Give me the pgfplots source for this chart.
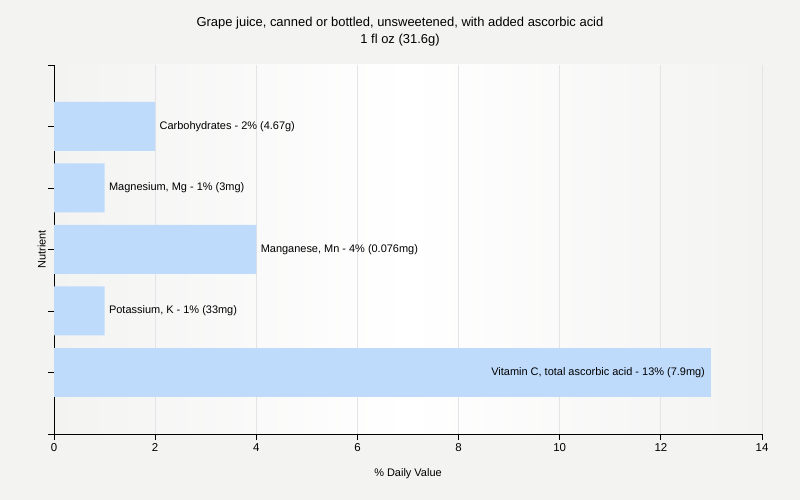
\documentclass[border=0pt]{standalone}
\usepackage{pgfplots}
\pgfplotsset{compat=1.18}
\usepackage{fontspec}
\setmainfont{Liberation Sans}
\definecolor{bgc}{HTML}{F3F3F2}
\definecolor{barc}{HTML}{BFDBFC}
\definecolor{gridc}{HTML}{E4E4E4}
\begin{document}
\begin{tikzpicture}[x=1bp,y=1bp]
\fill[bgc] (0,0) rectangle (800,500);
\node[align=center,font=\fontsize{13}{17}\selectfont] at (400,468) {Grape juice, canned or bottled, unsweetened, with added ascorbic acid\\1 fl oz (31.6g)};
\begin{axis}[
  at={(54bp,66bp)}, anchor=south west,
  scale only axis, width=708bp, height=369bp,
  xmin=0, xmax=14, ymin=-1, ymax=5,
  axis lines*=left,
  axis line style={black, line width=0.8pt},
  axis background/.style={left color=bgc, right color=bgc, middle color=white},
  xtick={0,2,...,14}, ytick={-1,0,...,5}, yticklabels={},
  tick align=outside, major tick length=6bp,
  tick style={black, line width=0.8pt},
  xmajorgrids, grid style={gridc, line width=0.8pt},
  ticklabel style={font=\fontsize{11.5}{13}\selectfont},
  /pgf/number format/assume math mode=true,
  xlabel={\% Daily Value}, ylabel={Nutrient},
  label style={font=\fontsize{11}{13}\selectfont},
  xlabel style={yshift=-10bp},
  ylabel style={yshift=-8bp},
  xbar, bar shift=0pt, bar width=49bp,
  nodes near coords, point meta=explicit symbolic,
  every node near coord/.style={font=\fontsize{11}{13}\selectfont, black},
  clip=false,
]
\addplot[fill=barc, draw=none, nodes near coords align={horizontal},
  every node near coord/.append style={anchor=west, xshift=1bp}]
  table[meta=lab, col sep=semicolon] {
x;y;lab
1;1;Potassium, K - 1\% (33mg)
4;2;Manganese, Mn - 4\% (0.076mg)
1;3;Magnesium, Mg - 1\% (3mg)
2;4;Carbohydrates - 2\% (4.67g)
};
\addplot[fill=barc, draw=none, nodes near coords align={horizontal},
  every node near coord/.append style={anchor=east, xshift=-3bp}]
  table[meta=lab, col sep=semicolon] {
x;y;lab
13;0;Vitamin C, total ascorbic acid - 13\% (7.9mg)
};
\end{axis}
\end{tikzpicture}
\end{document}
